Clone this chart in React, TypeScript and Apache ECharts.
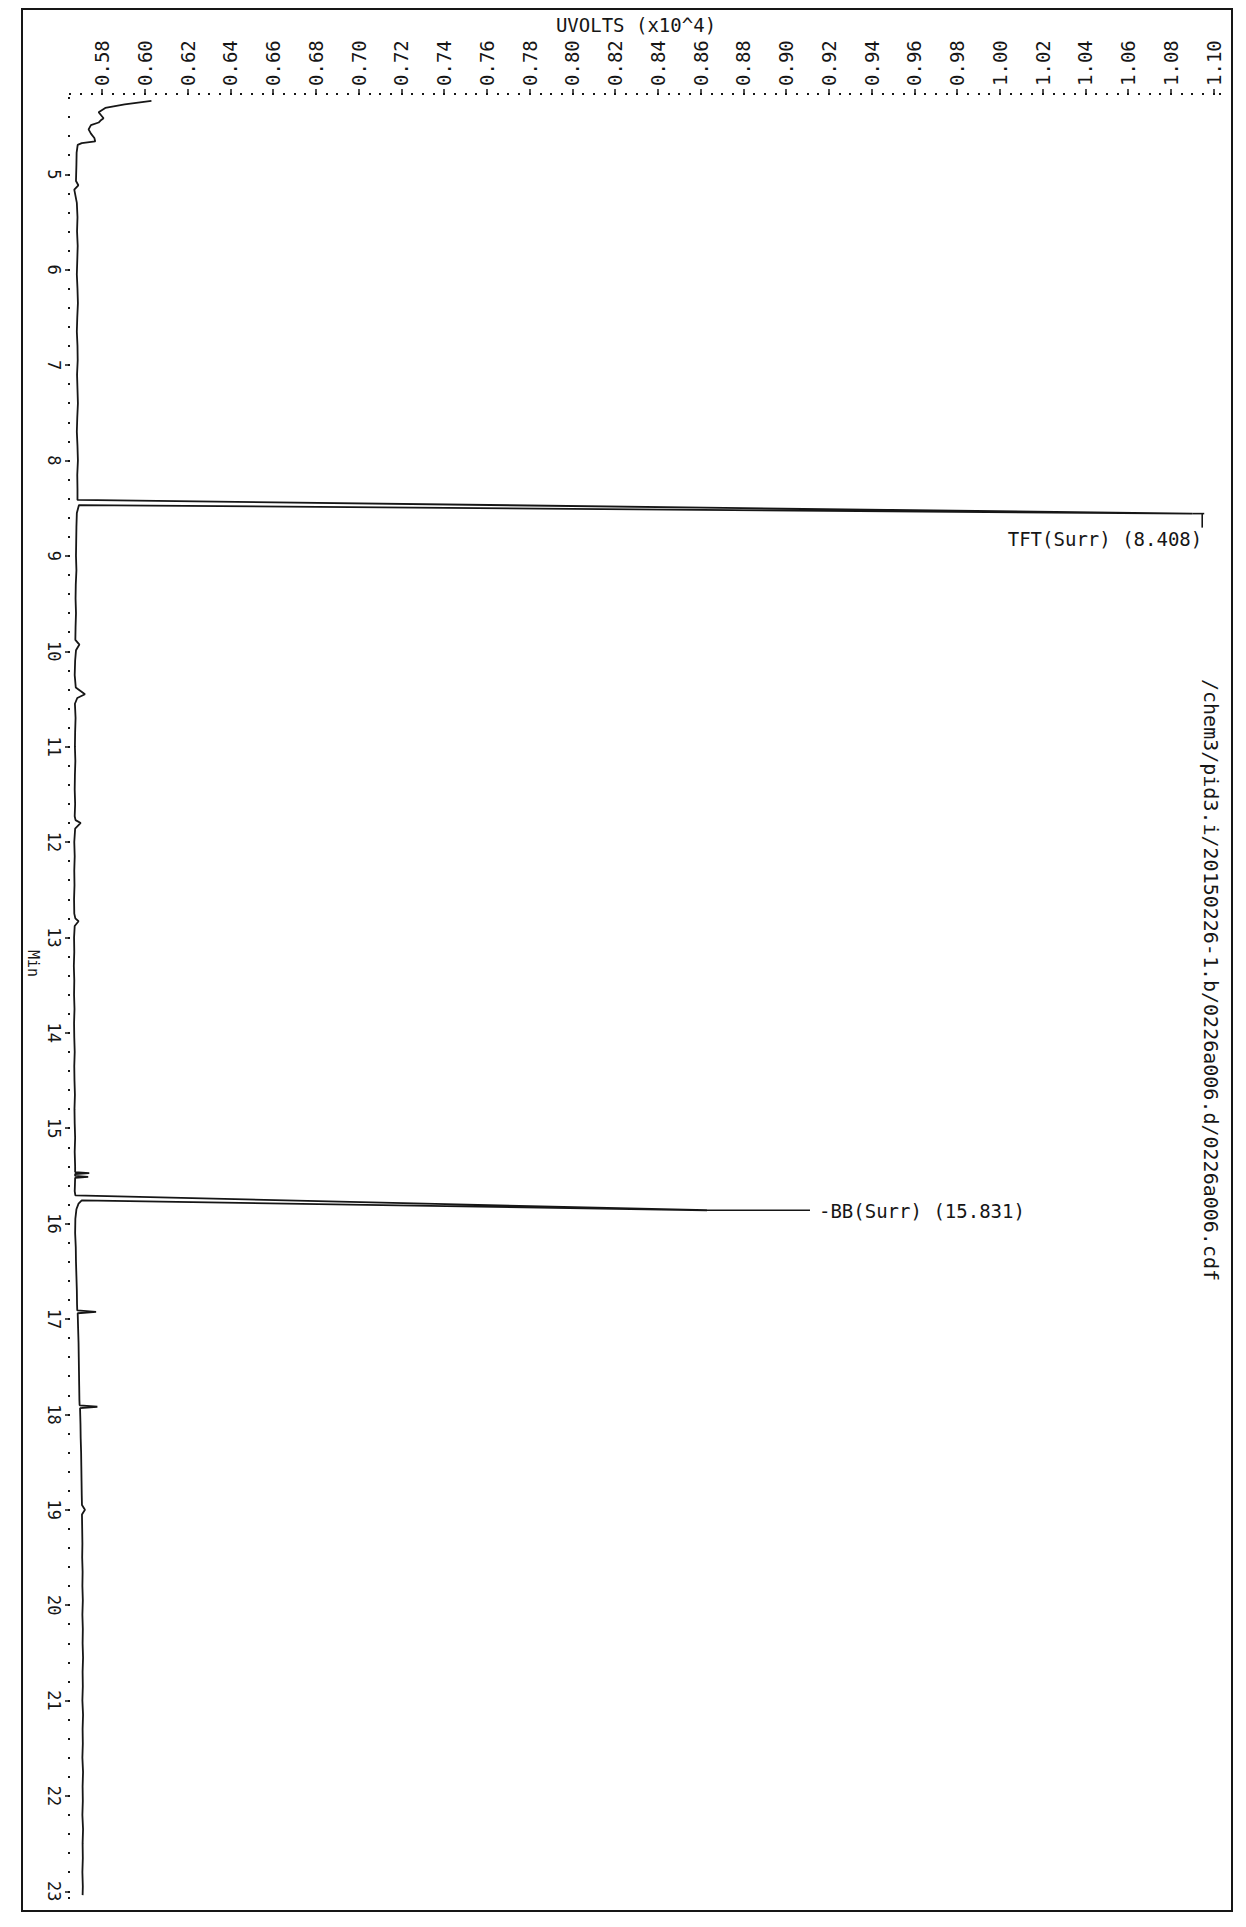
import React, { useEffect, useRef } from "react";
import * as echarts from "echarts";

// ---- axis tick labels ----
const timeTicks: number[] = [5, 6, 7, 8, 9, 10, 11, 12, 13, 14, 15, 16, 17, 18, 19, 20, 21, 22, 23];
const uvTicks: number[] = [
  0.58, 0.6, 0.62, 0.64, 0.66, 0.68, 0.7, 0.72, 0.74, 0.76, 0.78, 0.8, 0.82, 0.84,
  0.86, 0.88, 0.9, 0.92, 0.94, 0.96, 0.98, 1.0, 1.02, 1.04, 1.06, 1.08, 1.1,
];

// ---- trace: [time (min), signal (UVOLTS x10^4)] ----
const solventTail: [number, number][] = [
  [4.231, 0.6031], [4.267, 0.5906], [4.304, 0.5815], [4.349, 0.5784], [4.412, 0.5807],
  [4.43, 0.5796], [4.457, 0.5784], [4.484, 0.5748], [4.529, 0.5737], [4.574, 0.5748],
  [4.619, 0.5764], [4.655, 0.5768], [4.673, 0.5705], [4.692, 0.5686], [4.772, 0.5681],
  [4.9, 0.568], [5.07, 0.5678], [5.115, 0.5689], [5.16, 0.567],
];
const baselineEarly: [number, number][] = [
  [5.3, 0.5682], [5.45, 0.5685], [5.6, 0.5683], [5.75, 0.5686], [5.9, 0.5684],
  [6.05, 0.5682], [6.2, 0.5685], [6.35, 0.5687], [6.5, 0.5684], [6.65, 0.5682],
  [6.8, 0.5685], [6.95, 0.5686], [7.1, 0.5683], [7.25, 0.5685], [7.4, 0.5687],
  [7.55, 0.5684], [7.7, 0.5682], [7.85, 0.5685], [8.0, 0.5687], [8.15, 0.5684],
  [8.3, 0.5685], [8.414, 0.5685],
];
const tftPeak: [number, number][] = [[8.557, 1.09], [8.467, 0.5692]];
const baselineMid: [number, number][] = [
  [8.55, 0.5682], [8.7, 0.568], [8.85, 0.5679], [9.0, 0.5678], [9.15, 0.568],
  [9.3, 0.5677], [9.45, 0.5676], [9.6, 0.5678], [9.75, 0.5676], [9.88, 0.5675],
  [9.93, 0.5694], [9.99, 0.5678], [10.1, 0.5674], [10.25, 0.5672], [10.38, 0.5677],
  [10.45, 0.572], [10.49, 0.5684], [10.55, 0.5673], [10.7, 0.5676], [10.85, 0.5674],
  [11.0, 0.5673], [11.15, 0.5675], [11.3, 0.5673], [11.45, 0.5672], [11.6, 0.5674],
  [11.73, 0.5672], [11.77, 0.5676], [11.8, 0.57], [11.86, 0.5674], [12.0, 0.567],
  [12.15, 0.5672], [12.3, 0.567], [12.45, 0.5671], [12.6, 0.5669], [12.75, 0.567],
  [12.8, 0.5675], [12.83, 0.569], [12.88, 0.5672], [13.0, 0.5669], [13.15, 0.567],
  [13.3, 0.5668], [13.45, 0.567], [13.6, 0.5669], [13.75, 0.5671], [13.9, 0.5669],
  [14.05, 0.567], [14.2, 0.5672], [14.35, 0.567], [14.5, 0.5671], [14.65, 0.5673],
  [14.8, 0.5671], [14.95, 0.5672], [15.1, 0.5674], [15.25, 0.5672], [15.4, 0.5674],
  [15.46, 0.5674], [15.47, 0.574], [15.48, 0.5674], [15.5, 0.5674], [15.51, 0.5735],
  [15.52, 0.5674], [15.6, 0.5673], [15.66, 0.5672], [15.705, 0.5675],
];
const bbPeak: [number, number][] = [
  [15.86, 0.863], [15.756, 0.5705], [15.79, 0.569], [15.85, 0.568], [15.95, 0.5675],
  [16.1, 0.5674], [16.25, 0.5677],
];
const baselineLate: [number, number][] = [
  [16.4, 0.5678], [16.55, 0.568], [16.7, 0.5682], [16.85, 0.5683], [16.91, 0.5684],
  [16.925, 0.5772], [16.94, 0.5686], [17.1, 0.5688], [17.25, 0.569], [17.4, 0.5691],
  [17.55, 0.5692], [17.7, 0.5693], [17.85, 0.5694], [17.905, 0.5695], [17.92, 0.5778],
  [17.935, 0.5697], [18.1, 0.5699], [18.25, 0.57], [18.4, 0.5702], [18.55, 0.5703],
  [18.7, 0.5704], [18.85, 0.5705], [18.95, 0.5706], [19.0, 0.572], [19.05, 0.5706],
  [19.2, 0.5707], [19.35, 0.5708], [19.5, 0.5707], [19.65, 0.5709], [19.8, 0.5708],
  [19.95, 0.571], [20.1, 0.5708], [20.25, 0.571], [20.4, 0.5709], [20.55, 0.5711],
  [20.7, 0.5709], [20.85, 0.571], [21.0, 0.5708], [21.15, 0.5711], [21.3, 0.5709],
  [21.45, 0.571], [21.6, 0.5708], [21.75, 0.5711], [21.9, 0.5709], [22.05, 0.571],
  [22.2, 0.5708], [22.35, 0.5711], [22.5, 0.5709], [22.65, 0.571], [22.8, 0.5708],
  [22.95, 0.571], [23.04, 0.5709],
];

// ---- peak identification ----
const peakNames: string[] = ["TFT(Surr)", "BB(Surr)"];
const peakRT: number[] = [8.408, 15.831];

// ---- texts ----
const valueTitle = "UVOLTS (x10^4)";
const timeTitle = "Min";
const filePath = "/chem3/pid3.i/20150226-1.b/0226a006.d/0226a006.cdf";

const FONT = "'DejaVu Sans Mono', 'Liberation Mono', monospace";
const INK = "#161616";

export default function App() {
  const ref = useRef<HTMLDivElement>(null);

  useEffect(() => {
    if (!ref.current) return;
    const chart = echarts.init(ref.current, undefined, { renderer: "svg" });

    const trace = [...solventTail, ...baselineEarly, ...tftPeak, ...baselineMid, ...bbPeak, ...baselineLate];
    const xMin = 0.565;
    const xMax = 1.103;
    const yMin = 4.2;
    const yMax = 23.07;
    const box = { left: 70, top: 98, right: 26, bottom: 29 };

    const option: any = {
      animation: false,
      backgroundColor: "#ffffff",
      grid: [{ ...box }, { ...box }],
      xAxis: [
        {
          gridIndex: 0, type: "value", position: "top", offset: 3, min: xMin, max: xMax, interval: 0.005,
          axisLine: { show: false }, splitLine: { show: false }, axisLabel: { show: false },
          axisTick: { show: true, length: 2, lineStyle: { width: 2, color: INK } },
        },
        {
          gridIndex: 1, type: "value", position: "top", offset: 3, min: xMin, max: xMax,
          axisLine: { show: false }, splitLine: { show: false },
          axisTick: { show: true, customValues: uvTicks, length: 6, lineStyle: { width: 1.5, color: INK } },
          axisLabel: {
            show: true, customValues: uvTicks, rotate: -90, margin: 9, interval: 0,
            formatter: (v: number) => v.toFixed(2), fontFamily: FONT, fontSize: 19, color: INK,
          },
        },
      ],
      yAxis: [
        {
          gridIndex: 0, type: "value", position: "left", inverse: true, min: yMin, max: yMax, interval: 0.2,
          axisLine: { show: false }, splitLine: { show: false }, axisLabel: { show: false },
          axisTick: { show: true, length: 2, lineStyle: { width: 2, color: INK } },
        },
        {
          gridIndex: 1, type: "value", position: "left", inverse: true, min: yMin, max: yMax,
          axisLine: { show: false }, splitLine: { show: false },
          axisTick: { show: true, customValues: timeTicks, length: 5, lineStyle: { width: 1.5, color: INK } },
          axisLabel: {
            show: true, customValues: timeTicks, rotate: -90, margin: 8, interval: 0,
            formatter: (v: number) => String(v), fontFamily: FONT, fontSize: 17, color: INK,
          },
        },
      ],
      series: [
        {
          type: "line", xAxisIndex: 0, yAxisIndex: 0, symbol: "none", showSymbol: false, silent: true,
          data: trace.map(([t, uv]) => [uv, t]),
          lineStyle: { color: INK, width: 1.8 },
        },
      ],
    };
    chart.setOption(option);

    const toPx = (uv: number, t: number) => chart.convertToPixel({ seriesIndex: 0 }, [uv, t]) as number[];
    const scaleTop = uvTicks[uvTicks.length - 1];
    const [, tick13y] = toPx(xMin, 13);
    const graphic: any[] = [
      {
        type: "rect", silent: true, z: 10,
        shape: { x: 22, y: 9, width: 1210, height: 1902 },
        style: { fill: "none", stroke: INK, lineWidth: 2 },
      },
      {
        type: "text", silent: true, x: 636, y: 25,
        style: { text: valueTitle, fontFamily: FONT, fontSize: 19, fill: INK, align: "center", verticalAlign: "middle" },
      },
      {
        type: "text", silent: true, x: 33, y: tick13y + 26, rotation: -Math.PI / 2,
        style: { text: timeTitle, fontFamily: FONT, fontSize: 15, fill: INK, align: "center", verticalAlign: "middle" },
      },
      {
        type: "text", silent: true, x: 1211, y: 980, rotation: -Math.PI / 2,
        style: { text: filePath, fontFamily: FONT, fontSize: 20, fill: INK, align: "center", verticalAlign: "middle" },
      },
    ];

    peakNames.forEach((name, i) => {
      const rt = peakRT[i];
      let apex: [number, number] = [rt, 0];
      trace.forEach(([t, uv]) => {
        if (Math.abs(t - rt) < 0.3 && uv > apex[1]) apex = [t, uv];
      });
      const [px, py] = toPx(apex[1], apex[0]);
      const label = `${name} (${rt.toFixed(3)})`;
      if (apex[1] > scaleTop - 0.02) {
        // off-scale marker
        graphic.push(
          { type: "line", silent: true, shape: { x1: px, y1: py, x2: px + 12, y2: py }, style: { stroke: INK, lineWidth: 1.6 } },
          { type: "line", silent: true, shape: { x1: px + 10, y1: py, x2: px + 10, y2: py + 14 }, style: { stroke: INK, lineWidth: 1.6 } },
          {
            type: "text", silent: true, x: px + 10, y: py + 25,
            style: { text: label, fontFamily: FONT, fontSize: 19, fill: INK, align: "right", verticalAlign: "middle" },
          }
        );
      } else {
        graphic.push(
          { type: "line", silent: true, shape: { x1: px, y1: py, x2: px + 103, y2: py }, style: { stroke: INK, lineWidth: 1.3 } },
          {
            type: "text", silent: true, x: px + 112, y: py + 1,
            style: { text: "-" + label, fontFamily: FONT, fontSize: 19, fill: INK, align: "left", verticalAlign: "middle" },
          }
        );
      }
    });
    chart.setOption({ graphic });

    return () => chart.dispose();
  }, []);

  return (
    <div
      ref={ref}
      style={{ position: "absolute", left: 0, top: 0, width: 1246, height: 1927, background: "#ffffff" }}
    />
  );
}
